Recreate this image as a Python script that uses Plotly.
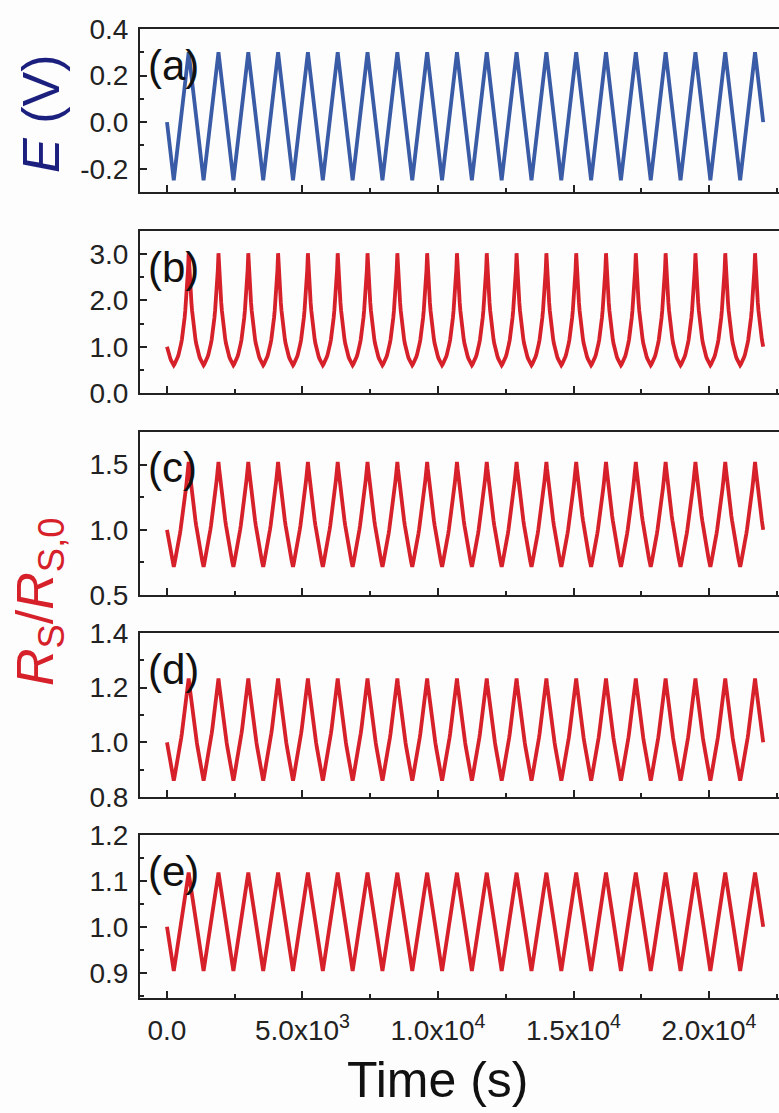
import numpy as np
import plotly.graph_objects as go

# Potential ladder of the triangular sweep (V), sampled every 25 s (1 mV/s)
E_LEVELS = [-0.250, -0.225, -0.200, -0.175, -0.150, -0.125, -0.100, -0.075,
            -0.050, -0.025, 0.000, 0.025, 0.050, 0.075, 0.100, 0.125,
            0.150, 0.175, 0.200, 0.225, 0.250, 0.275, 0.300]
STEP_S = 25
N_PEAKS = 20

# Normalised resistance R_S/R_S,0 at each potential of the ladder
RATIO_B = [0.600, 0.622, 0.646, 0.673, 0.704, 0.740, 0.780, 0.825,
           0.876, 0.934, 1.000, 1.075, 1.159, 1.255, 1.363, 1.486,
           1.625, 1.783, 1.962, 2.165, 2.394, 2.655, 3.020]
RATIO_C = [0.715, 0.739, 0.764, 0.790, 0.816, 0.844, 0.873, 0.903,
           0.934, 0.967, 1.000, 1.035, 1.071, 1.108, 1.147, 1.188,
           1.230, 1.274, 1.319, 1.366, 1.414, 1.466, 1.520]
RATIO_D = [0.860, 0.872, 0.885, 0.898, 0.911, 0.925, 0.939, 0.954,
           0.969, 0.984, 1.000, 1.016, 1.033, 1.051, 1.069, 1.088,
           1.107, 1.126, 1.146, 1.167, 1.189, 1.211, 1.234]
RATIO_E = [0.904, 0.913, 0.923, 0.932, 0.942, 0.951, 0.961, 0.971,
           0.981, 0.990, 1.000, 1.010, 1.020, 1.029, 1.039, 1.049,
           1.059, 1.068, 1.078, 1.088, 1.098, 1.108, 1.118]

# Axis ticks
X_TICKS = [0, 5000, 10000, 15000, 20000]
X_TICKTEXT = ["0.0", "5.0x10<sup>3</sup>", "1.0x10<sup>4</sup>",
              "1.5x10<sup>4</sup>", "2.0x10<sup>4</sup>"]
Y_TICKS = [
    [-0.2, 0.0, 0.2, 0.4],
    [0.0, 1.0, 2.0, 3.0],
    [0.5, 1.0, 1.5],
    [0.8, 1.0, 1.2, 1.4],
    [0.9, 1.0, 1.1, 1.2],
]
Y_TICKTEXT = [
    ["-0.2", "0.0", "0.2", "0.4"],
    ["0.0", "1.0", "2.0", "3.0"],
    ["0.5", "1.0", "1.5"],
    ["0.8", "1.0", "1.2", "1.4"],
    ["0.9", "1.0", "1.1", "1.2"],
]
Y_RANGES = [[-0.3, 0.4], [0.0, 3.5], [0.5, 1.75], [0.8, 1.4], [0.845, 1.2]]
Y_MINOR = [0.1, 0.5, 0.25, 0.1, 0.05]
PANEL_TAGS = ["(a)", "(b)", "(c)", "(d)", "(e)"]

# Walk along the ladder: start at 0 V, sweep down, then cycle between limits
zero_i = E_LEVELS.index(0.0)
top_i = len(E_LEVELS) - 1
idx = list(range(zero_i, -1, -1))
for k in range(N_PEAKS):
    idx += list(range(1, top_i + 1))
    if k < N_PEAKS - 1:
        idx += list(range(top_i - 1, -1, -1))
    else:
        idx += list(range(top_i - 1, zero_i - 1, -1))
idx = np.array(idx)
time_s = STEP_S * np.arange(len(idx))

series = [np.array(E_LEVELS)[idx], np.array(RATIO_B)[idx], np.array(RATIO_C)[idx],
          np.array(RATIO_D)[idx], np.array(RATIO_E)[idx]]
colors = ["#3A5BA6", "#D6202A", "#D6202A", "#D6202A", "#D6202A"]

# Panel pixel geometry (top, bottom) in a 1113 px tall page
W, H = 779, 1113
M_T, M_B, M_L = 29, 115, 140
plot_h = H - M_T - M_B
panels_px = [(29, 192), (231, 393), (432, 595), (633, 797), (835, 998)]

FONT = "Liberation Sans, Arial, sans-serif"
AXC = "#222222"
TICK_SIZE = 28

fig = go.Figure()
layout = dict(
    width=W, height=H,
    margin=dict(l=M_L, r=0, t=M_T, b=M_B, pad=0),
    paper_bgcolor="#FDFDFD", plot_bgcolor="#FDFDFD",
    showlegend=False,
    font=dict(family=FONT, size=TICK_SIZE, color=AXC),
)

annotations = []
for i in range(5):
    n = "" if i == 0 else str(i + 1)
    fig.add_trace(go.Scatter(
        x=time_s, y=series[i], mode="lines",
        line=dict(color=colors[i], width=3.8),
        xaxis="x" + n, yaxis="y" + n, hoverinfo="skip",
    ))
    top, bot = panels_px[i]
    dom = [(H - M_B - bot) / plot_h, (H - M_B - top) / plot_h]
    xa = dict(
        domain=[0, 1], range=[-996, 22583], anchor="y" + n,
        showline=True, mirror=True, linecolor=AXC, linewidth=2,
        showgrid=False, zeroline=False,
        ticks="inside", ticklen=7, tickwidth=2, tickcolor=AXC,
        tickvals=X_TICKS, ticktext=X_TICKTEXT,
        showticklabels=(i == 4), ticklabelstandoff=6,
        tickfont=dict(family=FONT, size=TICK_SIZE, color=AXC),
        minor=dict(ticks="inside", ticklen=4, tickwidth=2, tickcolor=AXC,
                   dtick=2500, tick0=0, showgrid=False),
    )
    ya = dict(
        domain=dom, range=Y_RANGES[i], anchor="x" + n,
        showline=True, mirror=False, linecolor=AXC, linewidth=2,
        showgrid=False, zeroline=False,
        ticks="inside", ticklen=7, tickwidth=2, tickcolor=AXC,
        tickvals=Y_TICKS[i], ticktext=Y_TICKTEXT[i],
        ticklabelstandoff=4,
        tickfont=dict(family=FONT, size=TICK_SIZE, color=AXC),
        minor=dict(ticks="inside", ticklen=4, tickwidth=2, tickcolor=AXC,
                   dtick=Y_MINOR[i], tick0=0, showgrid=False),
    )
    layout["xaxis" + n] = xa
    layout["yaxis" + n] = ya
    annotations.append(dict(
        text=PANEL_TAGS[i], xref="x" + n + " domain", yref="y" + n + " domain",
        x=0.009, y=1 - 36 / (bot - top), xanchor="left", yanchor="middle",
        showarrow=False, font=dict(family=FONT, size=42, color="#111111"),
    ))

# Axis titles
annotations.append(dict(
    text="<i>E</i> (V)", xref="paper", yref="paper",
    x=(41 - M_L) / (W - M_L), y=(H - M_B - 114) / plot_h,
    xanchor="center", yanchor="middle", textangle=-90, showarrow=False,
    font=dict(family=FONT, size=52, color="#1B1F7E"),
))
annotations.append(dict(
    text="<i>R</i><sub>S</sub>/<i>R</i><sub>S,0</sub>", xref="paper", yref="paper",
    x=(39 - M_L) / (W - M_L), y=(H - M_B - 602) / plot_h,
    xanchor="center", yanchor="middle", textangle=-90, showarrow=False,
    font=dict(family=FONT, size=52, color="#D6202A"),
))
annotations.append(dict(
    text="Time (s)", xref="paper", yref="paper",
    x=(437 - M_L) / (W - M_L), y=(H - M_B - 1080) / plot_h,
    xanchor="center", yanchor="middle", showarrow=False,
    font=dict(family=FONT, size=50, color="#111111"),
))
layout["annotations"] = annotations

fig.update_layout(**layout)
fig.write_html("out.html")
